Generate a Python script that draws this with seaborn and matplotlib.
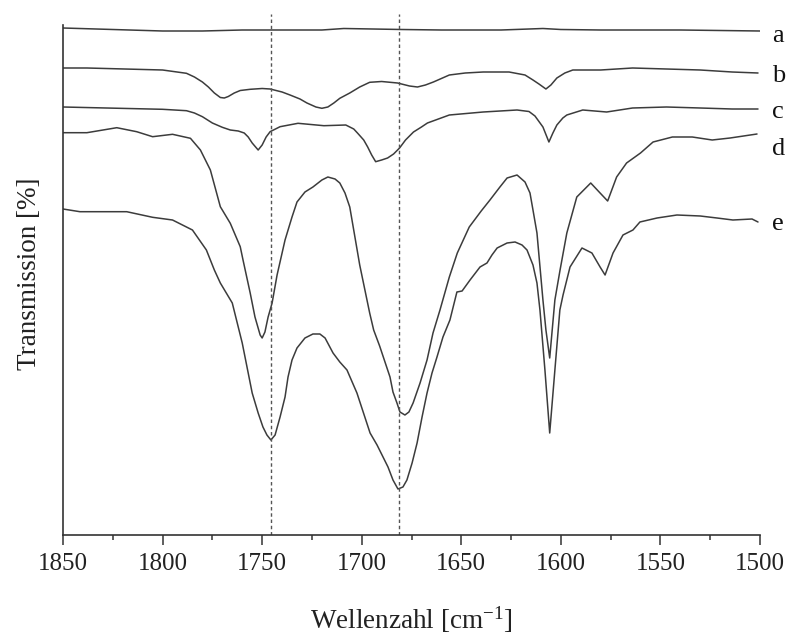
import numpy as np
import pandas as pd
import matplotlib
matplotlib.use('Agg')
import matplotlib.pyplot as plt
from matplotlib.ticker import MultipleLocator
import seaborn as sns

# spectra: wavenumber [cm^-1] / transmission [a.u., stacked]
wn_a = [1850, 1800, 1780, 1760, 1740, 1720, 1709, 1680, 1660, 1630, 1609, 1600, 1580, 1560, 1540, 1520, 1500]
tr_a = [507, 504, 504, 505, 505, 505, 506.5, 505.5, 505, 505, 506.5, 505.5, 505, 505, 505, 504.5, 504]

wn_b = [1850, 1838, 1800, 1788, 1784, 1780, 1777, 1774, 1771, 1769, 1767, 1764, 1761, 1756, 1750,
        1746, 1740, 1736, 1731, 1727.5, 1723, 1720, 1717, 1714, 1711, 1706, 1701, 1696, 1690,
        1682, 1676, 1672, 1668, 1664, 1656, 1648, 1639, 1626, 1618, 1614, 1611, 1607.5, 1605,
        1602, 1598, 1594, 1580, 1564, 1547, 1530, 1514, 1501]
tr_b = [467, 467, 465, 461.7, 458, 453, 448, 442, 437.5, 437, 438.5, 442, 444.5, 445.7, 446.5,
        446, 443, 440, 436, 432, 428, 426.7, 428, 432, 436.7, 442, 448, 452.7, 453.5,
        452, 449, 448, 450, 453, 460, 462, 463, 463, 460, 455, 451, 446, 450,
        457, 462, 465, 465, 467, 466, 465, 463, 462]

wn_c = [1850, 1800, 1788, 1784, 1780, 1775, 1770, 1766, 1762, 1759, 1757, 1755, 1752, 1750, 1748,
        1746, 1741, 1732, 1719, 1708, 1704, 1702, 1699, 1697, 1695, 1693, 1690, 1687, 1684, 1681,
        1678, 1674, 1670, 1667, 1656, 1639, 1622, 1616, 1613, 1609, 1606, 1604, 1602, 1599, 1597,
        1589, 1577, 1564, 1547, 1530, 1514, 1501]
tr_c = [428, 425.7, 424.3, 422, 418.3, 412, 407.7, 405, 404, 402, 398, 392, 385, 390, 398,
        403.3, 408.3, 411.7, 409.3, 410, 406, 401.7, 395, 388, 380, 373.3, 375, 377, 381, 387,
        395, 403, 408, 412, 420, 423, 425, 423.5, 419, 408, 393, 402, 410, 417, 420,
        425, 423, 427, 428, 427, 426, 426]

wn_d = [1850, 1838, 1823, 1813, 1805, 1795, 1786, 1781, 1776, 1771, 1766, 1761, 1759.6, 1756, 1753.6,
        1751, 1750, 1748.6, 1747, 1745, 1742.5, 1738.5, 1735, 1732.5, 1728.5, 1724.5, 1720, 1717,
        1713.4, 1711, 1708.4, 1706, 1701, 1696, 1694, 1691, 1685.8, 1684.3, 1682.3, 1680.8, 1678.3,
        1676.3, 1674.2, 1670.7, 1667.2, 1664.2, 1660.7, 1656, 1652, 1646, 1640, 1635.6, 1630.6,
        1627, 1622, 1618, 1615.5, 1614, 1612, 1609, 1607.5, 1605.6, 1603, 1600.4, 1597, 1592,
        1585, 1580.3, 1576.5, 1572, 1567, 1560, 1553.7, 1544, 1534, 1524, 1515, 1501.5]
tr_d = [402.3, 402.3, 407.3, 403.3, 398.3, 400.7, 396.7, 385, 365, 328.3, 311.7, 288.3, 275, 242, 218,
        200, 197, 203, 218, 232, 260, 295, 318, 333, 343, 348, 355, 358,
        356, 352, 342, 328, 270, 222, 205, 189, 158, 143, 132, 123, 120,
        123, 132, 152, 175, 202, 225, 258, 282, 308, 324, 335, 348,
        357, 360, 353, 342, 325, 302, 235, 205, 177, 235, 265, 302, 338,
        352, 342, 334, 358, 372, 382, 393, 398, 398, 395, 397, 401]

wn_e = [1850, 1841.5, 1818, 1805, 1795, 1785, 1778, 1774, 1771, 1765, 1760, 1755, 1752, 1749.6,
        1747.6, 1745.6, 1743.5, 1741, 1738.5, 1737, 1735, 1732.5, 1728.5, 1724.5, 1721, 1718.4,
        1716, 1714.4, 1711, 1707.4, 1702.4, 1695.8, 1692.3, 1689.3, 1686.8, 1684.3, 1681.8, 1679.3,
        1677.3, 1674.7, 1672.2, 1669.7, 1667.2, 1664.7, 1662.2, 1659.2, 1655.7, 1652.2, 1649.6,
        1645.6, 1640.6, 1637.1, 1634.6, 1632, 1627, 1623, 1619.5, 1617, 1614, 1612, 1610.5, 1608,
        1605.6, 1603, 1600.5, 1598.9, 1595.4, 1589.4, 1584.4, 1580.3, 1577.8, 1573.8, 1568.8,
        1563.8, 1560.3, 1551.7, 1541.7, 1530, 1521.6, 1513.6, 1504, 1501]
tr_e = [326, 323.3, 323.3, 317.7, 315, 305, 285, 265, 252, 232, 192, 142, 122, 108,
        100, 95, 100, 118, 138, 158, 175, 187, 197, 201, 201, 197,
        188, 182, 173, 165, 142, 102, 90, 78, 68, 55, 46, 48,
        55, 72, 92, 118, 142, 162, 178, 198, 215, 243, 244,
        255, 268, 272, 280, 287, 292, 293, 290, 285, 270, 252, 225, 165,
        102, 165, 225, 240, 268, 287, 282, 268, 260, 282, 300,
        305, 313, 317, 320, 319, 317, 315, 316, 313]

labels = ['a', 'b', 'c', 'd', 'e']
label_y = [493, 453, 417, 380, 305]
marker_wn = [1745.5, 1681.5]

spectra = pd.concat([
    pd.DataFrame({'wn': w, 'tr': t, 'sample': s})
    for w, t, s in zip([wn_a, wn_b, wn_c, wn_d, wn_e], [tr_a, tr_b, tr_c, tr_d, tr_e], labels)
])

sns.set_style('white')
plt.rcParams['font.family'] = ['Liberation Serif', 'DejaVu Serif']
plt.rcParams['mathtext.fontset'] = 'custom'
plt.rcParams['mathtext.rm'] = 'Liberation Serif'
plt.rcParams['mathtext.default'] = 'regular'

fig = plt.figure(figsize=(7.88, 6.37), dpi=100)
ax = fig.add_axes([63 / 788, 102 / 637, 697 / 788, 523 / 637])

for s in labels:
    d = spectra[spectra['sample'] == s]
    sns.lineplot(data=d, x='wn', y='tr', ax=ax, color='#3c3c3c', lw=1.1, estimator=None)

ax.vlines(marker_wn, 0, 521, colors='#555555', lw=1.0, linestyles=(0, (2.5, 2.0)))

for lab, y in zip(labels, label_y):
    ax.text(1494, y, lab, fontsize=19, ha='left', va='baseline', color='#111111', clip_on=False)

ax.set_xlim(1850, 1500)
ax.set_ylim(0, 523)
ax.xaxis.set_major_locator(MultipleLocator(50))
ax.xaxis.set_minor_locator(MultipleLocator(25))
ax.set_yticks([])
ax.tick_params(axis='x', which='major', direction='out', length=7, width=1.1,
               labelsize=18, pad=6, bottom=True, colors='#333333', labelcolor='#222222')
ax.tick_params(axis='x', which='minor', direction='out', length=3.5, width=1.1, bottom=True,
               colors='#333333')

for side in ['top', 'right']:
    ax.spines[side].set_visible(False)
for side in ['left', 'bottom']:
    ax.spines[side].set_linewidth(1.2)
    ax.spines[side].set_color('#333333')
ax.spines['left'].set_bounds(0, 510)

ax.set_xlabel('Wellenzahl [cm$^{-1}$]', fontsize=19.5, labelpad=21, color='#222222')
ax.set_ylabel('Transmission [%]', fontsize=19.5, labelpad=15, color='#222222')

fig.savefig('out.png', dpi=100)
